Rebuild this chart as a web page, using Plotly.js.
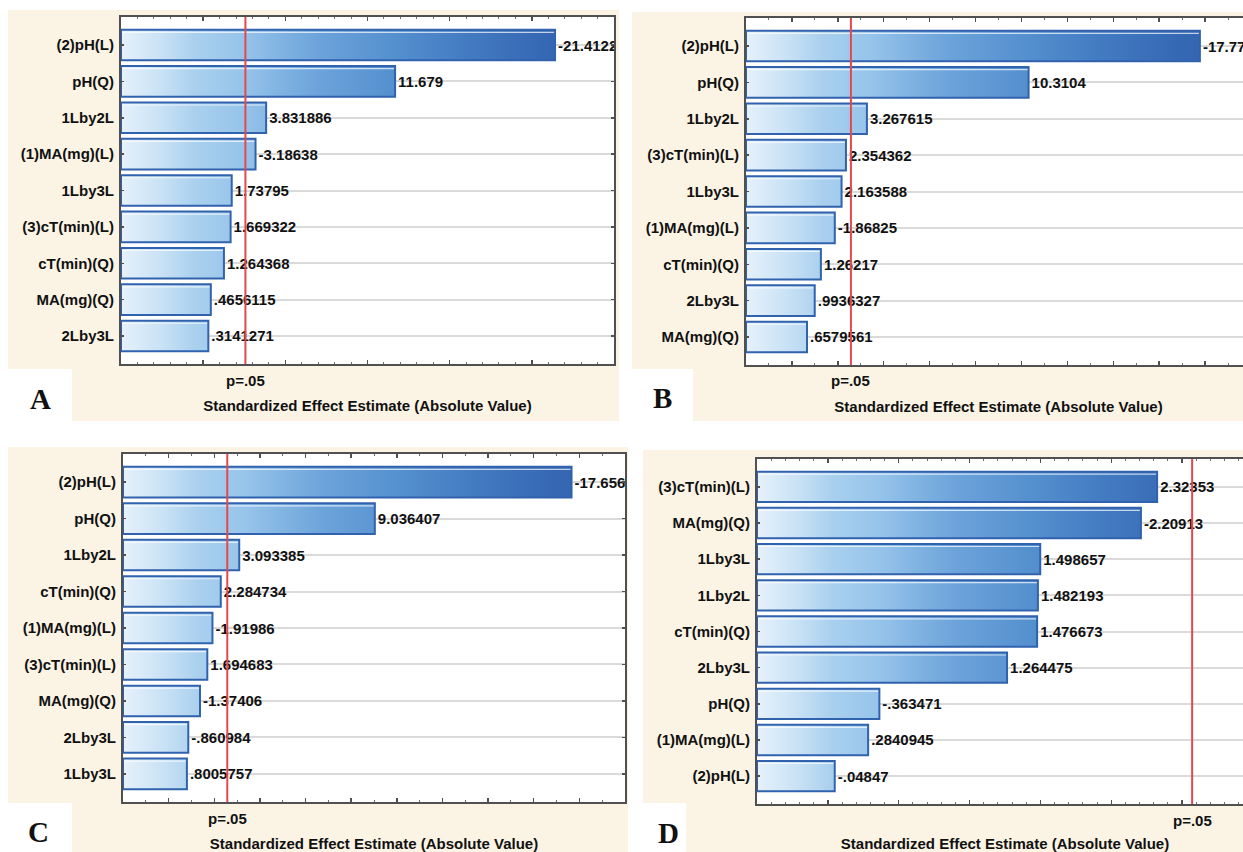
<!DOCTYPE html>
<html>
<head>
<meta charset="utf-8">
<script src="https://cdn.plot.ly/plotly-3.0.1.min.js"></script>
<style>
  html, body { margin: 0; padding: 0; background: #fff; overflow: hidden; }
  #chart { width: 1262px; height: 852px; }
</style>
</head>
<body>
<div id="chart"></div>
<script>
// Pareto charts of standardized effects, four responses (A-D)

const termsA = ['(2)pH(L)', 'pH(Q)', '1Lby2L', '(1)MA(mg)(L)', '1Lby3L', '(3)cT(min)(L)', 'cT(min)(Q)', 'MA(mg)(Q)', '2Lby3L'];
const effectsA = [-21.4122, 11.679, 3.831886, -3.18638, 1.73795, 1.669322, 1.264368, 0.4656115, 0.3141271];

const termsB = ['(2)pH(L)', 'pH(Q)', '1Lby2L', '(3)cT(min)(L)', '1Lby3L', '(1)MA(mg)(L)', 'cT(min)(Q)', '2Lby3L', 'MA(mg)(Q)'];
const effectsB = [-17.7731, 10.3104, 3.267615, 2.354362, 2.163588, -1.86825, 1.26217, 0.9936327, 0.6579561];

const termsC = ['(2)pH(L)', 'pH(Q)', '1Lby2L', 'cT(min)(Q)', '(1)MA(mg)(L)', '(3)cT(min)(L)', 'MA(mg)(Q)', '2Lby3L', '1Lby3L'];
const effectsC = [-17.6561, 9.036407, 3.093385, 2.284734, -1.91986, 1.694683, -1.37406, -0.860984, 0.8005757];

const termsD = ['(3)cT(min)(L)', 'MA(mg)(Q)', '1Lby3L', '1Lby2L', 'cT(min)(Q)', '2Lby3L', 'pH(Q)', '(1)MA(mg)(L)', '(2)pH(L)'];
const effectsD = [2.32353, -2.20913, 1.498657, 1.482193, 1.476673, 1.264475, -0.363471, 0.2840945, -0.04847];

// critical t value at p = .05 (two-sided, 5 residual df)
const pCritical = 2.5706;
const pLabel = 'p=.05';
const axisTitle = 'Standardized Effect Estimate (Absolute Value)';
const panelLetters = ['A', 'B', 'C', 'D'];

const W = 1262, H = 852;
const FONT = 'Arial, "Liberation Sans", Helvetica, sans-serif';
const SERIF = '"Liberation Serif", "Times New Roman", Times, serif';

// page geometry of each panel (pixels)
const panels = [
  { terms: termsA, effects: effectsA, frame: { l: 121, r: 614, t: 17, b: 364 }, range: [-5, 25], dtick: 5, minor: 1,
    bg: { l: 8, r: 619, t: 10, b: 421 }, box: { l: 0, r: 72, t: 369, b: 421 }, letterAt: [40, 399] },
  { terms: termsB, effects: effectsB, frame: { l: 746, r: 1251, t: 18, b: 365 }, range: [-2, 20], dtick: 2, minor: 1,
    bg: { l: 632, r: W, t: 12, b: 421 }, box: { l: 632, r: 693, t: 369, b: 421 }, letterAt: [662, 398] },
  { terms: termsC, effects: effectsC, frame: { l: 123, r: 625, t: 454, b: 802 }, range: [-2, 20], dtick: 2, minor: 1,
    bg: { l: 8, r: 628, t: 447, b: H }, box: { l: 0, r: 72, t: 803, b: H }, letterAt: [38, 832] },
  { terms: termsD, effects: effectsD, frame: { l: 757, r: 1253, t: 459, b: 804 }, range: [-0.5, 3], dtick: 0.5, minor: 0.1,
    bg: { l: 643, r: W, t: 450, b: H }, box: { l: 643, r: 686, t: 803, b: H }, letterAt: [668, 833] }
];

const px = x => x / W;
const py = y => 1 - y / H;

// effect values printed the way the statistics package prints them
function statFmt(v) {
  let s = Number(v).toPrecision(7);
  if (s.indexOf('.') >= 0) s = s.replace(/0+$/, '').replace(/\.$/, '');
  return s.replace(/^(-?)0\./, '$1.');
}

const barGradient = [
  [0, '#e6f1fb'], [0.08, '#c9e2f5'], [0.15, '#aad0ee'], [0.25, '#95c3ea'],
  [0.4, '#6ca3da'], [0.55, '#5590cf'], [0.7, '#437bc1'], [0.85, '#3669b4'], [1, '#2e5fa9']
];

const data = [], shapes = [], annotations = [];
const layout = {
  width: W, height: H, autosize: false,
  margin: { l: 0, r: 0, t: 0, b: 0 },
  paper_bgcolor: '#ffffff', plot_bgcolor: 'rgba(0,0,0,0)',
  showlegend: false, hovermode: false,
  font: { family: FONT, color: '#111' }
};

const yRange = [8.77, -0.77];
const half = 0.42;
const labelFont = { family: FONT, size: 15, color: '#111', weight: 'bold' };

panels.forEach((p, k) => {
  const n = k + 1, o = k + 5;
  const xid = n === 1 ? 'x' : 'x' + n;
  const yid = n === 1 ? 'y' : 'y' + n;
  const xo = 'x' + o, yo = 'y' + o;
  const f = p.frame;
  const x0 = p.range[0];
  const idx = p.terms.map((_, i) => i);
  const mag = p.effects.map(Math.abs);

  // gradient bodies of the bars
  const fx = [], fy = [], hx = [], hy = [];
  mag.forEach((m, i) => {
    fx.push(x0, m, m, x0, x0, null);
    fy.push(i - half, i - half, i + half, i + half, i - half, null);
    hx.push(x0, m, null);
    hy.push(i - half + 0.07, i - half + 0.07, null);
  });
  data.push({
    type: 'scatter', mode: 'lines', x: fx, y: fy, xaxis: xid, yaxis: yid,
    fill: 'toself',
    fillgradient: { type: 'horizontal', start: p.range[0], stop: p.range[1], colorscale: barGradient },
    line: { width: 0, color: 'rgba(0,0,0,0)' }, hoverinfo: 'skip'
  });
  // thin highlight just inside the top edge
  data.push({
    type: 'scatter', mode: 'lines', x: hx, y: hy, xaxis: xid, yaxis: yid,
    line: { width: 1.2, color: 'rgba(255,255,255,0.7)' }, hoverinfo: 'skip'
  });
  // bar outlines and value labels
  data.push({
    type: 'bar', orientation: 'h', y: idx, x: mag.map(m => m - x0), base: x0, width: 2 * half,
    xaxis: xo, yaxis: yo,
    marker: { color: 'rgba(0,0,0,0)', line: { color: '#3062ae', width: 2 } },
    text: p.effects.map(statFmt), textposition: 'outside', constraintext: 'none', cliponaxis: true,
    textfont: labelFont, hoverinfo: 'skip'
  });

  layout['xaxis' + (n === 1 ? '' : n)] = {
    domain: [px(f.l), px(f.r)], anchor: yid, range: p.range, fixedrange: true,
    showline: true, linecolor: '#505050', linewidth: 2, mirror: 'ticks',
    ticks: 'inside', ticklen: 4, tickwidth: 1.5, tickcolor: '#505050', tick0: 0, dtick: p.dtick,
    minor: { tick0: 0, dtick: p.minor, ticks: 'inside', ticklen: 2, tickwidth: 1, tickcolor: '#707070', showgrid: false },
    showticklabels: false, showgrid: false, zeroline: false,
    title: { text: axisTitle, font: labelFont, standoff: 35 }
  };
  layout['yaxis' + (n === 1 ? '' : n)] = {
    domain: [py(f.b), py(f.t)], anchor: xid, range: yRange, fixedrange: true,
    tickmode: 'array', tickvals: idx, ticktext: p.terms,
    ticks: 'inside', ticklen: 3, tickwidth: 1.5, tickcolor: '#505050',
    showline: true, linecolor: '#505050', linewidth: 2, mirror: 'ticks',
    showgrid: true, gridcolor: '#dadada', gridwidth: 2, zeroline: false,
    tickfont: labelFont, ticklabelstandoff: 2
  };
  layout['xaxis' + o] = { overlaying: xid, anchor: yo, range: p.range, visible: false, fixedrange: true };
  layout['yaxis' + o] = { overlaying: yid, anchor: xo, range: yRange, visible: false, fixedrange: true };

  // panel background, plot area, letter box
  shapes.push({ type: 'rect', xref: 'paper', yref: 'paper', layer: 'below',
    x0: px(p.bg.l), x1: px(p.bg.r), y0: py(p.bg.b), y1: py(p.bg.t), fillcolor: '#fbf4e5', line: { width: 0 } });
  shapes.push({ type: 'rect', xref: 'paper', yref: 'paper', layer: 'below',
    x0: px(f.l), x1: px(f.r), y0: py(f.b), y1: py(f.t), fillcolor: '#ffffff', line: { width: 0 } });
  shapes.push({ type: 'rect', xref: 'paper', yref: 'paper', layer: 'below',
    x0: px(p.box.l), x1: px(p.box.r), y0: py(p.box.b), y1: py(p.box.t), fillcolor: '#ffffff', line: { width: 0 } });

  // significance threshold
  shapes.push({ type: 'line', xref: xid, yref: yid + ' domain', layer: 'above',
    x0: pCritical, x1: pCritical, y0: 0, y1: 1, line: { color: '#e5484c', width: 2 } });
  annotations.push({ xref: xid, yref: 'paper', x: pCritical, y: py(f.b + 16), xanchor: 'center', yanchor: 'middle',
    text: pLabel, showarrow: false, font: labelFont });

  annotations.push({ xref: 'paper', yref: 'paper', x: px(p.letterAt[0]), y: py(p.letterAt[1]),
    xanchor: 'center', yanchor: 'middle', text: panelLetters[k], showarrow: false,
    font: { family: SERIF, size: 29, color: '#111', weight: 'bold' } });
});

layout.shapes = shapes;
layout.annotations = annotations;

Plotly.newPlot('chart', data, layout, { staticPlot: true, displayModeBar: false });
</script>
</body>
</html>
